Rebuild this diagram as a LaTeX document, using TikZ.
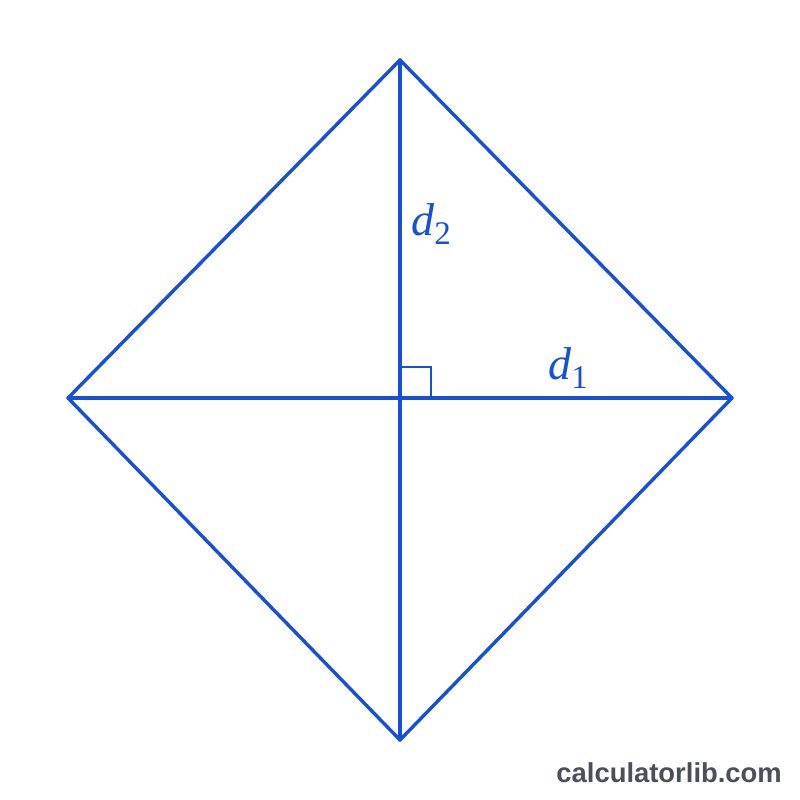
\documentclass[tikz,border=0pt]{standalone}
\usepackage{fontspec}
\setmainfont{Liberation Serif}
\newfontfamily\wmfont{Liberation Sans}
\definecolor{rhblue}{HTML}{1450D8}
\definecolor{wmgrey}{HTML}{4A4F5A}
\tikzset{
  edge/.style={draw=rhblue, line width=3.4pt, line join=round, line cap=round},
  rightmark/.style={draw=rhblue, line width=1.8pt},
  lbl/.style={text=rhblue, inner sep=0pt, font=\fontsize{46}{46}\selectfont},
}
\begin{document}
\begin{tikzpicture}[x=1pt,y=-1pt]
\useasboundingbox[fill=white] (0,0) rectangle (800,800);
\coordinate (T) at (400,60);
\coordinate (L) at (68,398);
\coordinate (R) at (732,398);
\coordinate (B) at (400,740);
\coordinate (O) at (400,398);
\draw[rightmark] (400,367) -- (431,367) -- (431,398);
\draw[edge] (T) -- (R) -- (B) -- (L) -- cycle;
\draw[edge] (L) -- (R);
\draw[edge] (T) -- (B);
\node[lbl, anchor=base west] (d2) at (411,235) {\textit{d}\raisebox{-0.2em}{\fontsize{33}{33}\selectfont 2}};
\node[lbl, anchor=base west] (d1) at (548,379) {\textit{d}\raisebox{-0.2em}{\fontsize{33}{33}\selectfont 1}};
\node[text=wmgrey, inner sep=0pt, anchor=base east, font=\wmfont\bfseries\fontsize{27.4}{27.4}\selectfont] (wm) at (782,782) {calculatorlib.com};
\end{tikzpicture}
\end{document}
